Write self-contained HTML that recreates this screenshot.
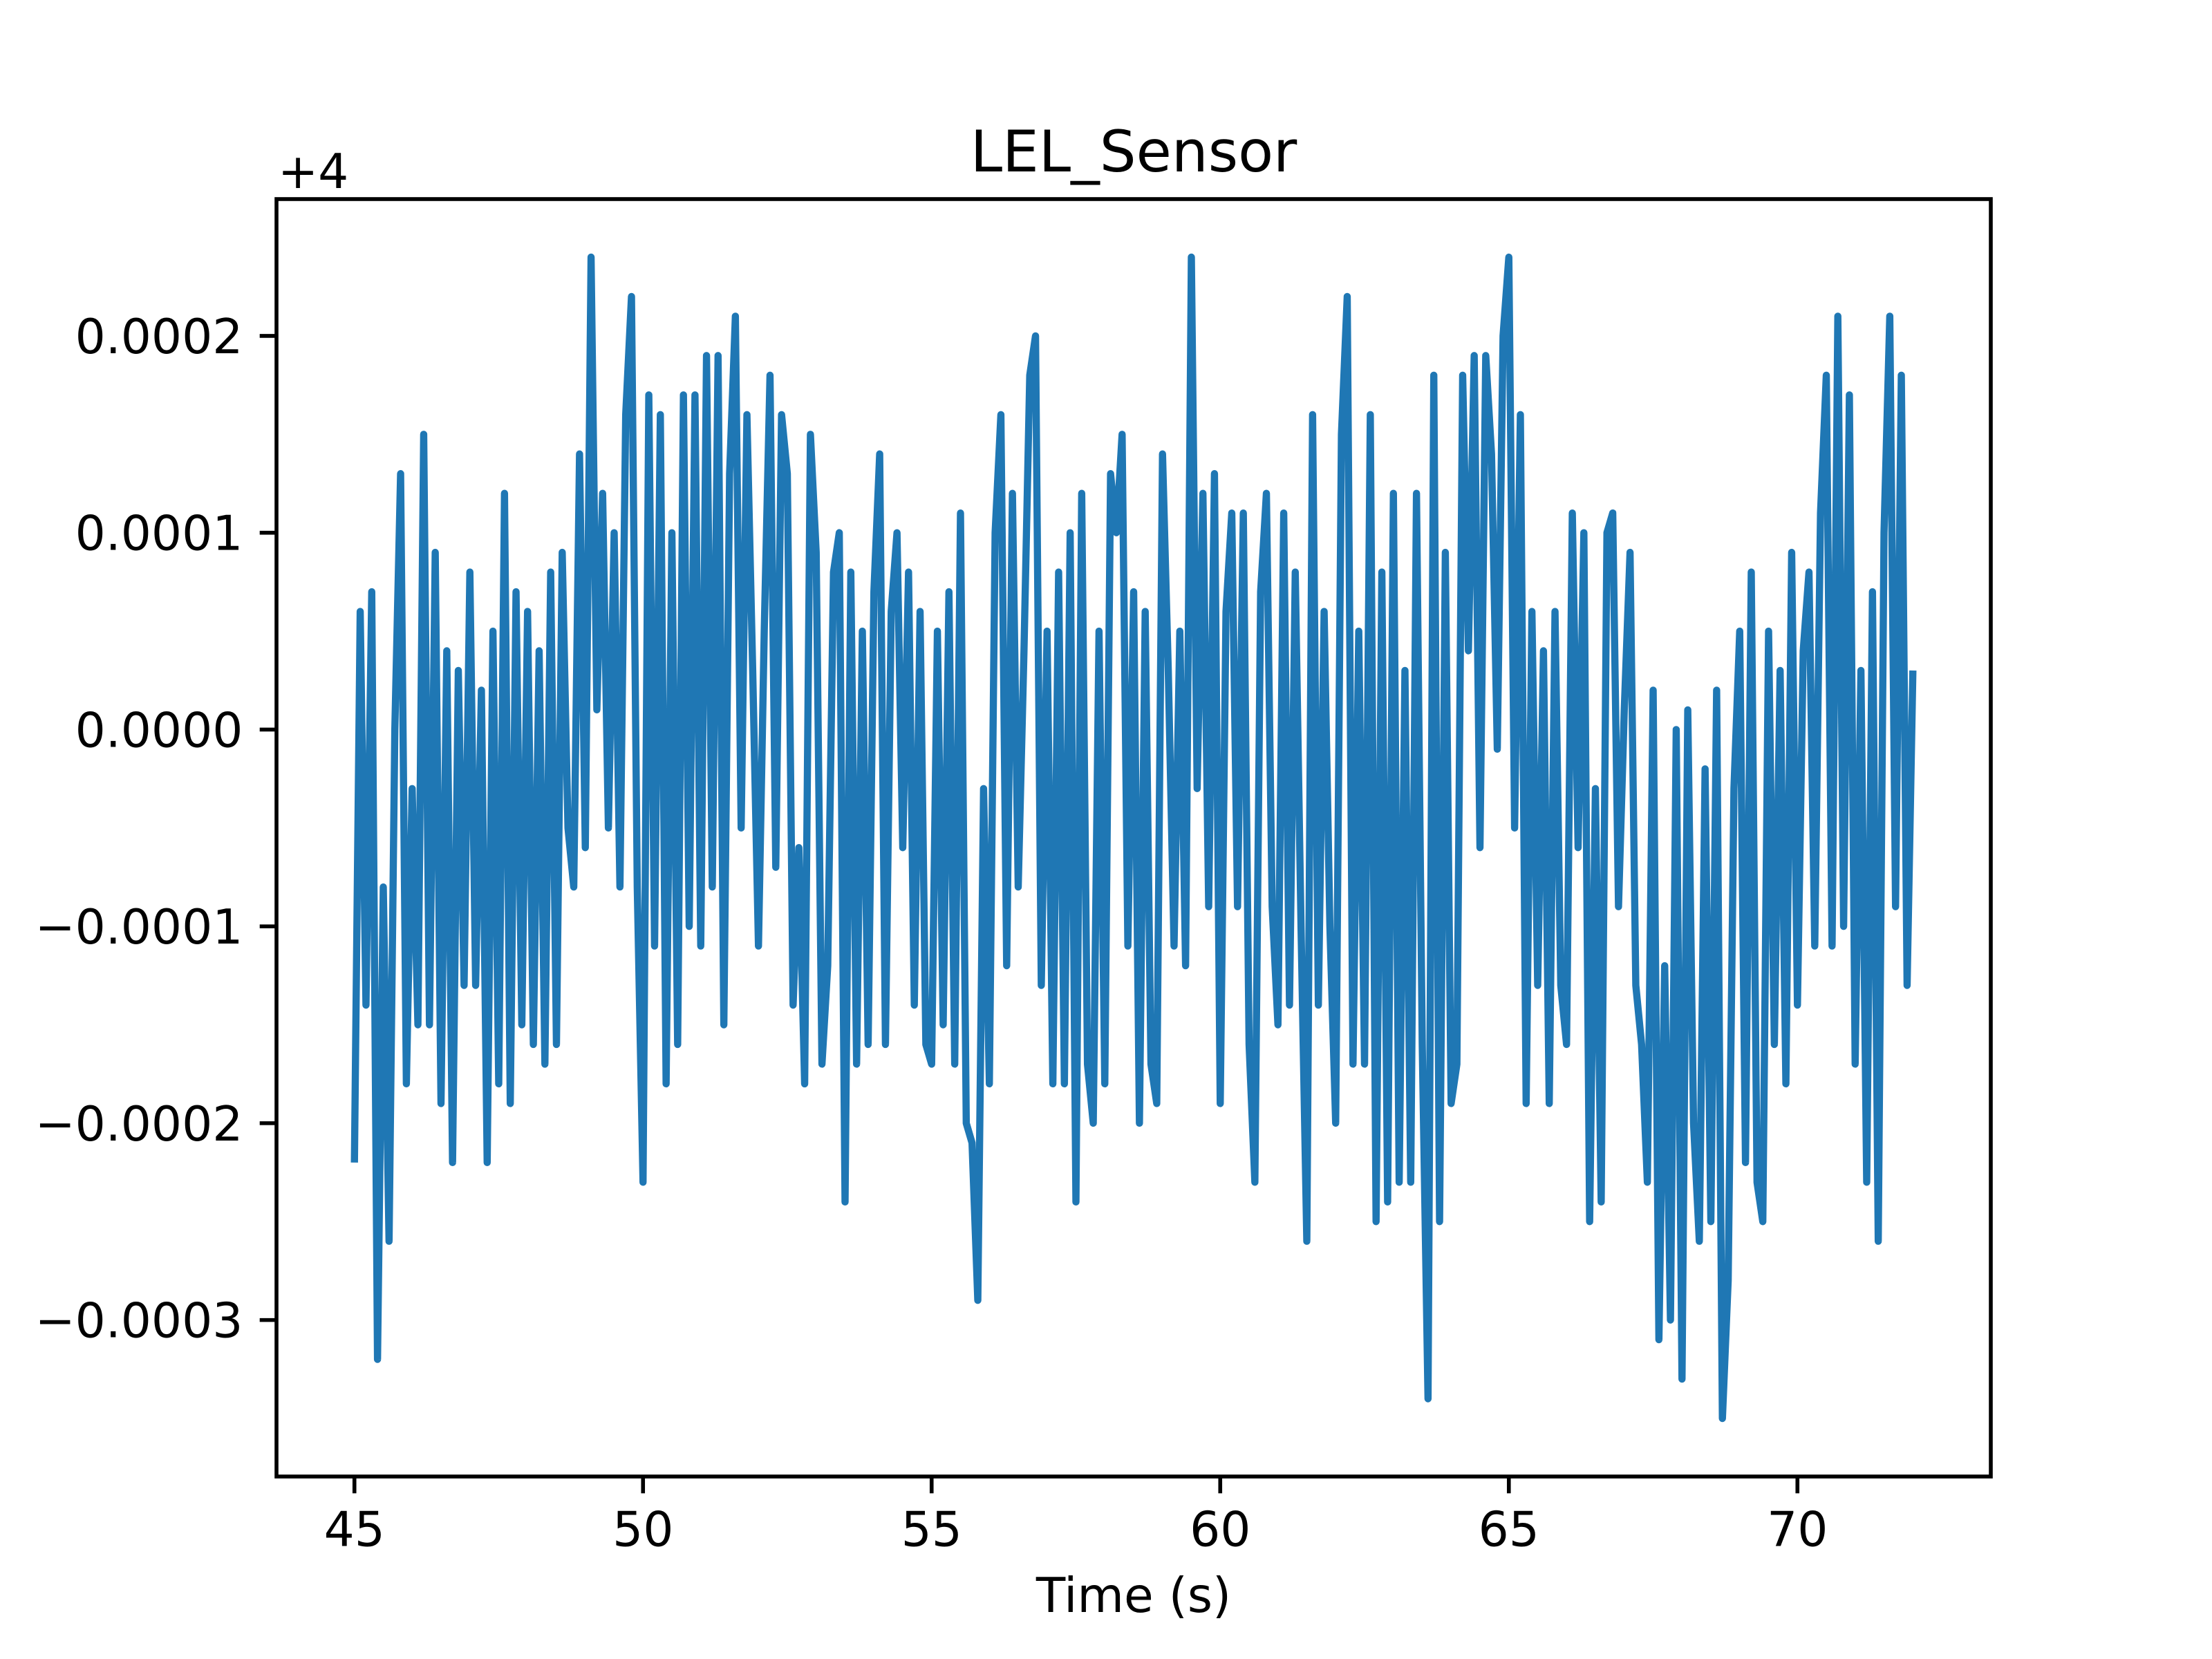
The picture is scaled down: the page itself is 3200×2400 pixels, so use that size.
<!DOCTYPE html>
<html><head><meta charset="utf-8"><style>
html,body{margin:0;padding:0;background:#fff;}
svg{display:block;}
text{font-family:"DejaVu Sans","Liberation Sans",sans-serif;fill:#000;}
</style></head><body>
<svg id="chart" width="3200" height="2400" viewBox="0 0 3200 2400" xmlns="http://www.w3.org/2000/svg">
<rect x="0" y="0" width="3200" height="2400" fill="#fff"/>
<text x="1640" y="248" font-size="83.3" text-anchor="middle">LEL_Sensor</text>
<text x="402" y="272" font-size="69.4">+4</text>
<g id="plot"></g>
<g id="xticks"></g>
<g id="yticks"></g>
<text x="1640" y="2332" font-size="69.4" text-anchor="middle">Time (s)</text>
<rect x="400" y="288" width="2480" height="1848" fill="none" stroke="#000" stroke-width="5.6"/>
</svg>
<script>
const tStart = 45.0;
const tStep = 0.1;
// sensor values minus 4, in units of 1e-5
const values = [
-22,6,-14,7,-32,-8,-26,0,13,-18,
-3,-15,15,-15,9,-19,4,-22,3,-13,
8,-13,2,-22,5,-18,12,-19,7,-15,
6,-16,4,-17,8,-16,9,-5,-8,14,
-6,24,1,12,-5,10,-8,16,22,-8,
-23,17,-11,16,-18,10,-16,17,-10,17,
-11,19,-8,19,-15,13,21,-5,16,3,
-11,5,18,-7,16,13,-14,-6,-18,15,
9,-17,-12,8,10,-24,8,-17,5,-16,
7,14,-16,6,10,-6,8,-14,6,-16,
-17,5,-15,7,-17,11,-20,-21,-29,-3,
-18,10,16,-12,12,-8,4,18,20,-13,
5,-18,8,-18,10,-24,12,-17,-20,5,
-18,13,10,15,-11,7,-20,6,-17,-19,
14,3,-11,5,-12,24,-3,12,-9,13,
-19,6,11,-9,11,-16,-23,7,12,-9,
-15,11,-14,8,-10,-26,16,-14,6,-10,
-20,15,22,-17,5,-17,16,-25,8,-24,
12,-23,3,-23,12,-16,-34,18,-25,9,
-19,-17,18,4,19,-6,19,14,-1,20,
24,-5,16,-19,6,-13,4,-19,6,-13,
-16,11,-6,10,-25,-3,-24,10,11,-9,
1,9,-13,-16,-23,2,-31,-12,-30,0,
-33,1,-20,-26,-2,-25,2,-35,-28,-3,
5,-22,8,-23,-25,5,-16,3,-18,9,
-14,4,8,-11,11,18,-11,21,-10,17,
-17,3,-23,7,-26,10,21,-9,18,-13,
3
];
const xTicks = [45,50,55,60,65,70];
const yTicks = [2,1,0,-1,-2,-3]; // in 1e-4
const yTickLabels = ["0.0002","0.0001","0.0000","\u22120.0001","\u22120.0002","\u22120.0003"];

const NS = "http://www.w3.org/2000/svg";
const AX = {l:400, r:2880, t:288, b:2136};
const tEnd = tStart + tStep*(values.length-1);
const xPad = (tEnd - tStart)*0.05;
const xMin = tStart - xPad, xMax = tEnd + xPad;
const vMax = Math.max(...values), vMin = Math.min(...values);
const yPad = (vMax - vMin)*0.05;
const yMin = vMin - yPad, yMax = vMax + yPad;
function xs(t){ return AX.l + (t - xMin)/(xMax - xMin)*(AX.r - AX.l); }
function ys(v){ return AX.b - (v - yMin)/(yMax - yMin)*(AX.b - AX.t); }

const plot = document.getElementById('plot');
let d = '';
values.forEach((v,i)=>{ d += (i?'L':'M') + xs(tStart+i*tStep).toFixed(2) + ' ' + ys(v).toFixed(2); });
const line = document.createElementNS(NS,'path');
line.setAttribute('d', d);
line.setAttribute('fill','none');
line.setAttribute('stroke','#1f77b4');
line.setAttribute('stroke-width','10.4');
line.setAttribute('stroke-linejoin','round');
line.setAttribute('stroke-linecap','butt');


plot.appendChild(line);

const xg = document.getElementById('xticks');
xTicks.forEach(t=>{
  const x = xs(t);
  const tk = document.createElementNS(NS,'line');
  tk.setAttribute('x1',x); tk.setAttribute('x2',x);
  tk.setAttribute('y1',AX.b); tk.setAttribute('y2',AX.b+24.3);
  tk.setAttribute('stroke','#000'); tk.setAttribute('stroke-width','5.6');
  
  
  xg.appendChild(tk);
  const tx = document.createElementNS(NS,'text');
  tx.setAttribute('x',x); tx.setAttribute('y',AX.b+24.3+24.3+52);
  tx.setAttribute('font-size','69.4'); tx.setAttribute('text-anchor','middle');
  tx.textContent = String(t);
  
  
  xg.appendChild(tx);
});
const yg = document.getElementById('yticks');
yTicks.forEach((v,i)=>{
  const y = ys(v*10);
  const tk = document.createElementNS(NS,'line');
  tk.setAttribute('x1',AX.l-24.3); tk.setAttribute('x2',AX.l);
  tk.setAttribute('y1',y); tk.setAttribute('y2',y);
  tk.setAttribute('stroke','#000'); tk.setAttribute('stroke-width','5.6');
  
  
  yg.appendChild(tk);
  const tx = document.createElementNS(NS,'text');
  tx.setAttribute('x',AX.l-24.3-24.3); tx.setAttribute('y',y+25);
  tx.setAttribute('font-size','69.4'); tx.setAttribute('text-anchor','end');
  tx.textContent = yTickLabels[i];
  
  
  yg.appendChild(tx);
});
</script>
</body></html>
